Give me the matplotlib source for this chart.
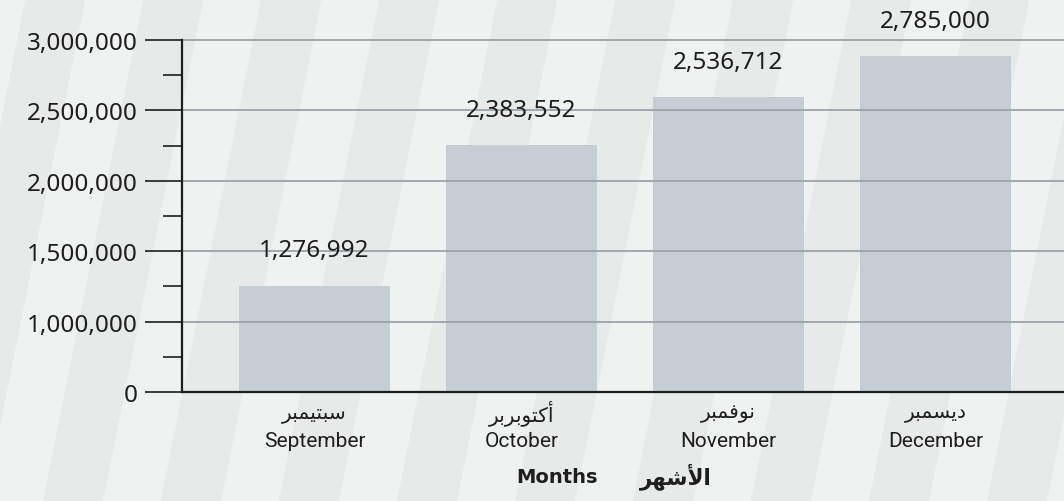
import numpy as np
import matplotlib
matplotlib.use("Agg")
import matplotlib.pyplot as plt
from matplotlib.patches import Polygon
from matplotlib.ticker import FixedLocator, FixedFormatter, MultipleLocator

months_en = ["September", "October", "November", "December"]
months_ar = ["سبتيمبر", "أكتوبربر", "نوفمبر", "ديسمبر"]
value_labels = ["1,276,992", "2,383,552", "2,536,712", "2,785,000"]
# bar tops as drawn in the picture, in gridline steps (one step per tick label)
bar_heights = [1.51, 3.51, 4.19, 4.77]
tick_labels = ["0", "1,000,000", "1,500,000", "2,000,000", "2,500,000", "3,000,000"]
xlabel_en = "Months"
xlabel_ar = "الأشهر"

# --- tiny arabic shaper (matplotlib has no shaping/bidi) ---
FORMS = {
    'ا': (0xFE8D, 0xFE8E, None, None),
    'أ': (0xFE83, 0xFE84, None, None),
    'ب': (0xFE8F, 0xFE90, 0xFE91, 0xFE92),
    'ت': (0xFE95, 0xFE96, 0xFE97, 0xFE98),
    'د': (0xFEA9, 0xFEAA, None, None),
    'ر': (0xFEAD, 0xFEAE, None, None),
    'س': (0xFEB1, 0xFEB2, 0xFEB3, 0xFEB4),
    'ش': (0xFEB5, 0xFEB6, 0xFEB7, 0xFEB8),
    'ف': (0xFED1, 0xFED2, 0xFED3, 0xFED4),
    'ك': (0xFED9, 0xFEDA, 0xFEDB, 0xFEDC),
    'ل': (0xFEDD, 0xFEDE, 0xFEDF, 0xFEE0),
    'م': (0xFEE1, 0xFEE2, 0xFEE3, 0xFEE4),
    'ن': (0xFEE5, 0xFEE6, 0xFEE7, 0xFEE8),
    'ه': (0xFEE9, 0xFEEA, 0xFEEB, 0xFEEC),
    'و': (0xFEED, 0xFEEE, None, None),
    'ي': (0xFEF1, 0xFEF2, 0xFEF3, 0xFEF4),
}
LAM_ALEF = {'أ': (0xFEF7, 0xFEF8), 'ا': (0xFEFB, 0xFEFC)}


def shape(word):
    units = []
    i = 0
    while i < len(word):
        if word[i] == 'ل' and i + 1 < len(word) and word[i + 1] in LAM_ALEF:
            units.append(('LA', word[i + 1]))
            i += 2
        else:
            units.append(('C', word[i]))
            i += 1

    def joins_next(u):
        return u[0] == 'C' and FORMS[u[1]][2] is not None

    out = []
    for k, u in enumerate(units):
        prev = k > 0 and joins_next(units[k - 1])
        nxt = k + 1 < len(units) and joins_next(u)
        if u[0] == 'LA':
            iso, fin = LAM_ALEF[u[1]]
            out.append(chr(fin if prev else iso))
            continue
        iso, fin, ini, med = FORMS[u[1]]
        if prev and nxt:
            c = med
        elif prev:
            c = fin
        elif nxt:
            c = ini
        else:
            c = iso
        out.append(chr(c))
    return ''.join(reversed(out))


W, H = 1064, 502
ink = '#1e1e1e'
fig = plt.figure(figsize=(W / 100, H / 100), dpi=100)
fig.patch.set_facecolor('#f0f1f1')

# background diagonal bands
bg = fig.add_axes([0, 0, 1, 1], zorder=-5)
bg.set_xlim(0, W)
bg.set_ylim(H, 0)
bg.axis('off')
for k in range(-2, 11):
    x0 = 43 + k * 118
    bg.add_patch(Polygon([(x0, H), (x0 + 60, H), (x0 + 60 + 0.2 * H, 0), (x0 + 0.2 * H, 0)],
                         closed=True, facecolor='#e8e9e9', edgecolor='none'))

ax = fig.add_axes([182 / W, (H - 393) / H, (W - 182) / W, 352 / H])
ax.patch.set_alpha(0)

x = np.arange(len(months_en))
ax.bar(x, bar_heights, width=0.73, color='#c5cdd5', zorder=1)

ax.set_xlim(-0.64, 3.621)
ax.set_ylim(0, 5)

for s in ['top', 'right']:
    ax.spines[s].set_visible(False)
for s in ['left', 'bottom']:
    ax.spines[s].set_color(ink)
    ax.spines[s].set_linewidth(1.6)
    ax.spines[s].set_zorder(4)

ax.yaxis.set_major_locator(FixedLocator(range(len(tick_labels))))
ax.yaxis.set_major_formatter(FixedFormatter(tick_labels))
ax.yaxis.set_minor_locator(MultipleLocator(0.5))
ax.tick_params(axis='y', which='major', length=27, width=1.2, color=ink, pad=5,
               labelsize=17.5, labelcolor=ink)
ax.tick_params(axis='y', which='minor', length=13.5, width=1.2, color=ink)
for lab in ax.get_yticklabels():
    lab.set_family('Noto Sans')
ax.tick_params(axis='x', length=0, labelbottom=False)

ax.set_axisbelow(False)
ax.yaxis.grid(True, which='major', color='#9ba3a9', linewidth=1.3, zorder=2)
for gl in ax.get_ygridlines():
    gl.set_clip_on(False)

for i, (h, lab) in enumerate(zip(bar_heights, value_labels)):
    ax.text(i, h + 0.5, lab, ha='center', va='center', fontsize=17.5,
            family='Noto Sans', color=ink, clip_on=False)

tr = ax.get_xaxis_transform()
for i in range(len(months_en)):
    ax.text(i, -0.057, shape(months_ar[i]), transform=tr, ha='center', va='center',
            fontsize=14.5, family='DejaVu Sans', color=ink)
    ax.text(i, -0.139, months_en[i], transform=tr, ha='center', va='center',
            fontsize=15, family='Roboto', color=ink)

ax.text(0.4717, -0.241, xlabel_en, transform=ax.transAxes,
        ha='right', va='center', fontsize=14, fontweight='bold',
        family='DejaVu Sans', color=ink)
ax.text(0.519, -0.237, shape(xlabel_ar), transform=ax.transAxes,
        ha='left', va='center', fontsize=15.5, fontweight='bold',
        family='DejaVu Sans', color=ink)

fig.savefig('out.png', dpi=100, facecolor=fig.get_facecolor())
